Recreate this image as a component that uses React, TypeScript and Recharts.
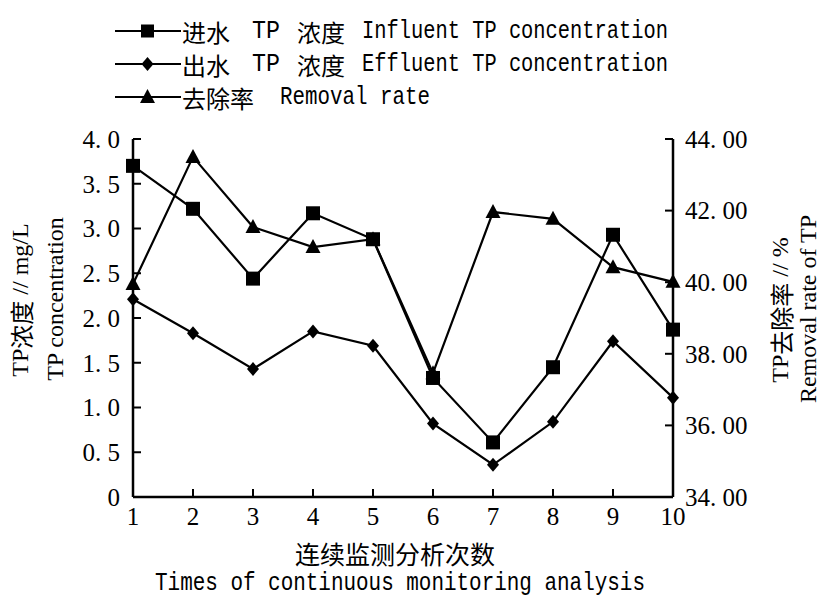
import { LineChart, Line, XAxis, YAxis } from "recharts"

// monitoring runs
const RUNS = ["1", "2", "3", "4", "5", "6", "7", "8", "9", "10"]
// TP concentration, mg/L
const INFLUENT = [3.7, 3.22, 2.44, 3.17, 2.88, 1.33, 0.61, 1.45, 2.93, 1.87]
const EFFLUENT = [2.21, 1.83, 1.43, 1.85, 1.69, 0.82, 0.36, 0.84, 1.74, 1.11]
// removal rate, %
const REMOVAL = [39.95, 43.5, 41.54, 40.98, 41.2, 37.46, 41.96, 41.77, 40.42, 40.01]

const LEFT_TICKS = [0, 0.5, 1, 1.5, 2, 2.5, 3, 3.5, 4]
const RIGHT_TICKS = [34, 36, 38, 40, 42, 44]

const data = RUNS.map((r, i) => ({
  run: r,
  influent: INFLUENT[i],
  effluent: EFFLUENT[i],
  removal: REMOVAL[i],
}))

const SERIF = "'Liberation Serif', serif"
const MONO = "'Liberation Mono', monospace"
const CJK = "'Noto Sans CJK SC', sans-serif"

const fmtLeft = (v: number) => {
  if (v === 0) return "0"
  const [a, b] = v.toFixed(1).split(".")
  return `${a}. ${b}`
}
const fmtRight = (v: number) => {
  const [a, b] = v.toFixed(2).split(".")
  return `${a}. ${b}`
}

const Square = (p: any) => (
  <rect key={`sq-${p.index}`} x={p.cx - 7} y={p.cy - 7} width={14} height={14} fill="#000" />
)
const Diamond = (p: any) => (
  <path
    key={`dm-${p.index}`}
    d={`M${p.cx},${p.cy - 7} L${p.cx + 6},${p.cy} L${p.cx},${p.cy + 7} L${p.cx - 6},${p.cy} Z`}
    fill="#000"
  />
)
const Triangle = (p: any) => (
  <path
    key={`tr-${p.index}`}
    d={`M${p.cx},${p.cy - 8} L${p.cx + 7.5},${p.cy + 6} L${p.cx - 7.5},${p.cy + 6} Z`}
    fill="#000"
  />
)

function LegendRow({ y, marker, parts }: { y: number; marker: string; parts: [string, number, number?, string?][] }) {
  return (
    <g>
      <line x1={115} x2={181} y1={y} y2={y} stroke="#000" strokeWidth={2} />
      {marker === "square" && <rect x={141} y={y - 6.5} width={13} height={13} fill="#000" />}
      {marker === "diamond" && (
        <path d={`M147.5,${y - 7} L153.5,${y} L147.5,${y + 7} L141.5,${y} Z`} fill="#000" />
      )}
      {marker === "triangle" && (
        <path d={`M147.5,${y - 8} L155,${y + 6} L140,${y + 6} Z`} fill="#000" />
      )}
      {parts.map(([t, x, len, kind], i) =>
        kind === "cjk" ? (
          <text key={i} x={x} y={y} dominantBaseline="central" fontFamily={CJK} fontSize={24}>
            {t}
          </text>
        ) : (
          <text
            key={i}
            x={x}
            y={y}
            dominantBaseline="central"
            fontFamily={MONO}
            fontSize={25}
            textLength={len}
            lengthAdjust="spacingAndGlyphs"
          >
            {t}
          </text>
        )
      )}
    </g>
  )
}

// rotated axis title; pieces alternate latin / chinese
function VTitle({ x, y, pieces }: { x: number; y: number; pieces: [string, boolean?][] }) {
  return (
    <text
      transform={`translate(${x},${y}) rotate(-90)`}
      textAnchor="middle"
      dominantBaseline="central"
      fontSize={24}
    >
      {pieces.map(([t, cjk], i) => (
        <tspan key={i} fontFamily={cjk ? CJK : SERIF}>
          {t}
        </tspan>
      ))}
    </text>
  )
}

export default function App() {
  return (
    <div style={{ position: "absolute", left: 0, top: 0, width: 825, height: 602, background: "#fff" }}>
      <LineChart
        width={825}
        height={602}
        data={data}
        margin={{ top: 139, right: 0, left: 0, bottom: 0 }}
      >
        <XAxis
          dataKey="run"
          height={105}
          axisLine={{ stroke: "#000", strokeWidth: 2.5 }}
          tickLine={{ stroke: "#000", strokeWidth: 2 }}
          tickSize={-8}
          tickMargin={18}
          tick={{ fill: "#000", fontSize: 25, fontFamily: SERIF }}
          interval={0}
        />
        <YAxis
          yAxisId="left"
          width={133}
          domain={[0, 4]}
          ticks={LEFT_TICKS}
          tickFormatter={fmtLeft}
          axisLine={{ stroke: "#000", strokeWidth: 2.5 }}
          tickLine={{ stroke: "#000", strokeWidth: 2 }}
          tickSize={-8}
          tickMargin={21}
          tick={{ fill: "#000", fontSize: 25, fontFamily: SERIF }}
        />
        <YAxis
          yAxisId="right"
          orientation="right"
          width={152}
          domain={[34, 44]}
          ticks={RIGHT_TICKS}
          tickFormatter={fmtRight}
          axisLine={{ stroke: "#000", strokeWidth: 2.5 }}
          tickLine={{ stroke: "#000", strokeWidth: 2 }}
          tickSize={-8}
          tickMargin={20}
          tick={{ fill: "#000", fontSize: 25, fontFamily: SERIF }}
        />
        <Line
          yAxisId="right"
          dataKey="removal"
          type="linear"
          stroke="#000"
          strokeWidth={2.2}
          dot={Triangle}
          activeDot={false}
          isAnimationActive={false}
        />
        <Line
          yAxisId="left"
          dataKey="effluent"
          type="linear"
          stroke="#000"
          strokeWidth={2.2}
          dot={Diamond}
          activeDot={false}
          isAnimationActive={false}
        />
        <Line
          yAxisId="left"
          dataKey="influent"
          type="linear"
          stroke="#000"
          strokeWidth={2.2}
          dot={Square}
          activeDot={false}
          isAnimationActive={false}
        />
      </LineChart>

      {/* legend and axis titles */}
      <svg
        width={825}
        height={602}
        style={{ position: "absolute", left: 0, top: 0, pointerEvents: "none" }}
      >
        <LegendRow
          y={31}
          marker="square"
          parts={[
            ["进水", 182, 0, "cjk"],
            ["TP", 252, 28],
            ["浓度", 297, 0, "cjk"],
            ["Influent TP concentration", 362, 306],
          ]}
        />
        <LegendRow
          y={64}
          marker="diamond"
          parts={[
            ["出水", 182, 0, "cjk"],
            ["TP", 252, 28],
            ["浓度", 297, 0, "cjk"],
            ["Effluent TP concentration", 362, 306],
          ]}
        />
        <LegendRow
          y={97}
          marker="triangle"
          parts={[
            ["去除率", 182, 0, "cjk"],
            ["Removal rate", 280, 150],
          ]}
        />

        <VTitle x={20} y={300} pieces={[["TP"], ["浓度", true], [" // mg/L"]]} />
        <VTitle x={55} y={299} pieces={[["TP concentration"]]} />
        <VTitle x={780} y={310} pieces={[["TP"], ["去除率", true], [" // %"]]} />
        <VTitle x={808} y={309} pieces={[["Removal rate of TP"]]} />

        <text x={395} y={553} textAnchor="middle" dominantBaseline="central" fontFamily={CJK} fontSize={25}>
          连续监测分析次数
        </text>
        <text
          x={155}
          y={583}
          dominantBaseline="central"
          fontFamily={MONO}
          fontSize={25}
          textLength={490}
          lengthAdjust="spacingAndGlyphs"
        >
          Times of continuous monitoring analysis
        </text>
      </svg>
    </div>
  )
}
